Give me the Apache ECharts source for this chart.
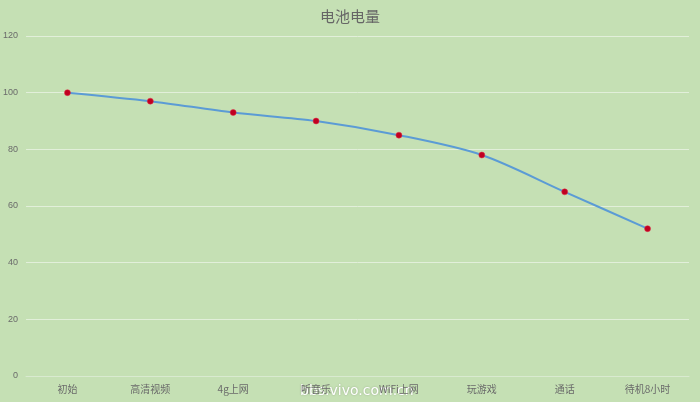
<!DOCTYPE html>
<html>
<head>
<meta charset="utf-8">
<script src="https://cdn.jsdelivr.net/npm/echarts@6/dist/echarts.min.js"></script>
<style>
  html, body { margin: 0; padding: 0; background: #c5e0b4; }
  #main { width: 700px; height: 402px; }
</style>
</head>
<body>
<div id="main"></div>
<script>
var categories = ['初始', '高清视频', '4g上网', '听音乐', 'WiFi上网', '玩游戏', '通话', '待机8小时'];
var battery = [100, 97, 93, 90, 85, 78, 65, 52];
var yTicks = [0, 20, 40, 60, 80, 100, 120];

var option = {
    backgroundColor: '#c5e0b4',
    title: {
        text: '电池电量',
        left: 'center',
        top: 4,
        textStyle: {
            color: '#666666',
            fontSize: 15,
            fontWeight: 'normal',
            fontFamily: 'Noto Sans CJK SC'
        }
    },
    grid: {
        left: 26,
        right: 11,
        top: 36,
        bottom: 26
    },
    xAxis: {
        type: 'category',
        data: categories,
        boundaryGap: true,
        axisTick: { show: false },
        axisLine: { lineStyle: { color: '#d9ead0' } },
        axisLabel: {
            color: '#6a6a6a',
            fontSize: 10,
            margin: 8,
            fontFamily: 'Noto Sans CJK SC'
        }
    },
    yAxis: {
        type: 'value',
        min: yTicks[0],
        max: yTicks[yTicks.length - 1],
        interval: 20,
        axisLine: { show: false },
        axisTick: { show: false },
        axisLabel: {
            color: '#6a6a6a',
            fontSize: 9,
            margin: 8,
            align: 'right'
        },
        splitLine: {
            lineStyle: { color: '#e2efda', width: 1 }
        }
    },
    series: [{
        name: '电池电量',
        type: 'line',
        data: battery,
        smooth: 0.3,
        symbol: 'circle',
        symbolSize: 6,
        lineStyle: { color: '#5b9bd5', width: 2 },
        itemStyle: { color: '#c00020', borderColor: '#e0304a', borderWidth: 0.5 }
    }],
    graphic: [{
        type: 'text',
        left: 300,
        top: 384,
        style: {
            text: 'bbs.vivo.com.cn',
            fill: '#ffffff',
            font: '14px "DejaVu Sans", sans-serif',
            textShadowColor: 'rgba(0,0,0,0.25)',
            textShadowBlur: 2
        }
    }]
};
var chart = echarts.init(document.getElementById('main'));
chart.setOption(option);
</script>
</body>
</html>
